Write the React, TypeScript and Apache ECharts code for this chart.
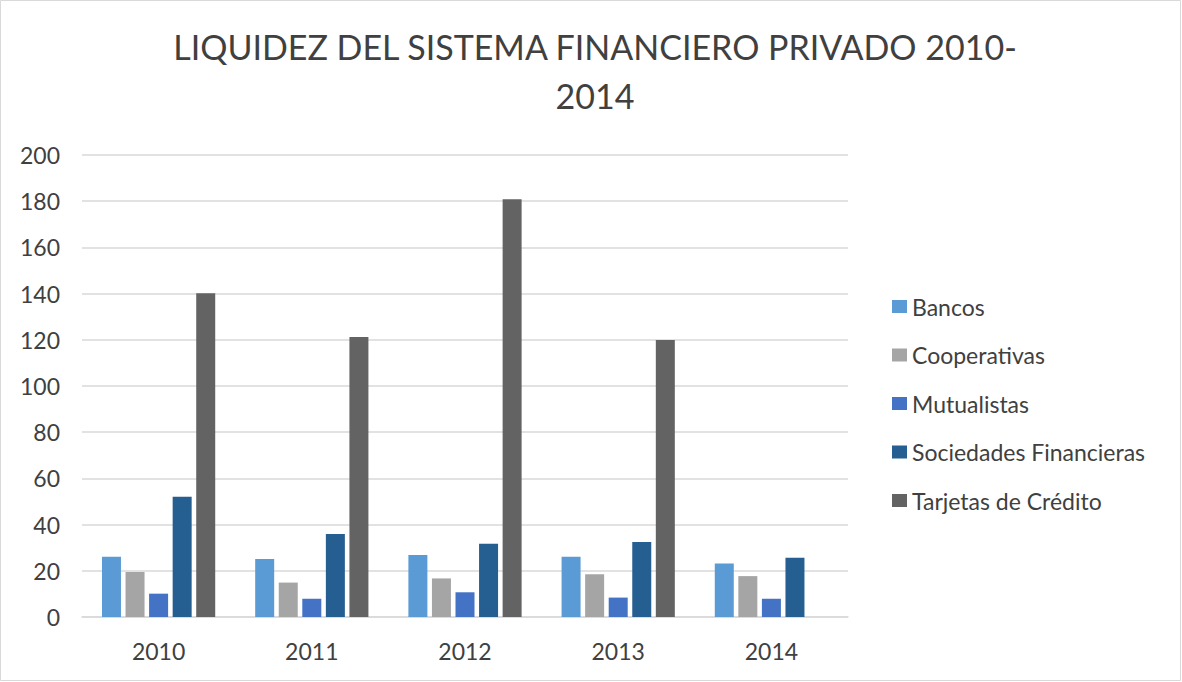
import React, { useEffect, useRef } from "react";
import * as echarts from "echarts";

const years = ["2010", "2011", "2012", "2013", "2014"];
const bancos = [26.1, 25.1, 26.8, 26.1, 23.2];
const cooperativas = [19.5, 14.9, 16.7, 18.5, 17.7];
const mutualistas = [10.1, 7.9, 10.7, 8.4, 7.9];
const sociedades = [52.1, 35.9, 31.7, 32.5, 25.7];
const tarjetas = [140.1, 121.2, 180.8, 119.9, null];

const seriesNames = ["Bancos", "Cooperativas", "Mutualistas", "Sociedades Financieras", "Tarjetas de Crédito"];
const seriesData = [bancos, cooperativas, mutualistas, sociedades, tarjetas];
const colors = ["#5B9BD5", "#A5A5A5", "#4472C4", "#255E91", "#636363"];

const FONT = "Lato";

export default function App() {
  const ref = useRef<HTMLDivElement>(null);
  useEffect(() => {
    if (!ref.current) return;
    const chart = echarts.init(ref.current, null, { renderer: "svg" });
    chart.setOption({
      animation: false,
      backgroundColor: "#ffffff",
      textStyle: { fontFamily: FONT },
      title: {
        text: "LIQUIDEZ DEL SISTEMA FINANCIERO PRIVADO 2010-\n2014",
        left: 590,
        textAlign: "center",
        top: 17,
        textStyle: {
          fontFamily: FONT,
          fontSize: 34,
          fontWeight: "normal",
          color: "#404040",
          lineHeight: 49,
        },
      },
      graphic: [
        {
          type: "rect",
          shape: { x: 0.5, y: 0.5, width: 1180, height: 680 },
          style: { fill: "none", stroke: "#d9d9d9", lineWidth: 1 },
          silent: true,
        },
      ],
      legend: {
        orient: "vertical",
        left: 892,
        top: 295,
        padding: 0,
        itemWidth: 15,
        itemHeight: 13,
        itemGap: 25.5,
        icon: "rect",
        textStyle: { fontFamily: FONT, fontSize: 23, color: "#404040", lineHeight: 23 },
        data: seriesNames,
      },
      grid: { left: 82, right: 334, top: 155, bottom: 65, containLabel: false },
      xAxis: {
        type: "category",
        data: years,
        axisTick: { show: false },
        axisLine: { lineStyle: { color: "#d9d9d9", width: 1.5 } },
        axisLabel: { color: "#404040", fontSize: 23, fontFamily: FONT, margin: 22 },
      },
      yAxis: {
        type: "value",
        min: 0,
        max: 200,
        interval: 20,
        axisLine: { show: false },
        axisTick: { show: false },
        splitLine: { lineStyle: { color: "#d9d9d9", width: 1.5 } },
        axisLabel: { color: "#404040", fontSize: 23, fontFamily: FONT, margin: 22 },
      },
      series: seriesNames.map((name, i) => ({
        name,
        type: "bar",
        data: seriesData[i],
        barWidth: 19,
        barGap: "24%",
        itemStyle: { color: colors[i] },
      })),
    });
    return () => chart.dispose();
  }, []);
  return (
    <div
      ref={ref}
      style={{ position: "absolute", left: 0, top: 0, width: 1182, height: 682 }}
    />
  );
}
